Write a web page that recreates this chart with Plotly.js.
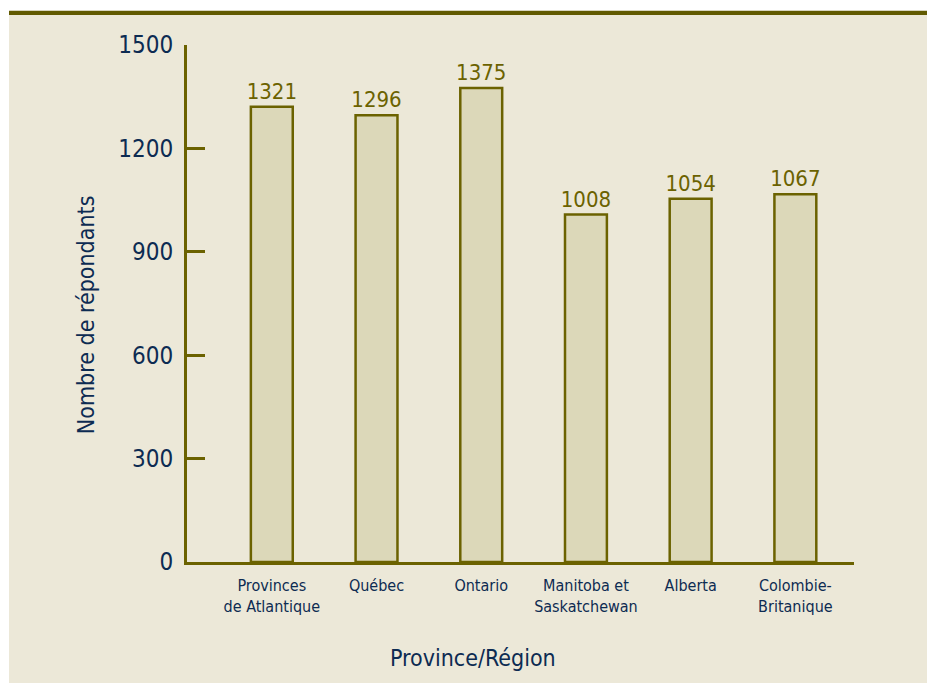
<!DOCTYPE html>
<html>
<head>
<meta charset="utf-8">
<script src="https://cdn.plot.ly/plotly-3.0.1.min.js"></script>
<style>html,body{margin:0;padding:0;background:#fff;}#chart{width:927px;height:683px;}</style>
</head>
<body>
<div id="chart"></div>
<script>
const categories = ["Provinces<br>de Atlantique", "Québec", "Ontario", "Manitoba et<br>Saskatchewan", "Alberta", "Colombie-<br>Britanique"];
const values = [1321, 1296, 1375, 1008, 1054, 1067];
const yTicks = [0, 300, 600, 900, 1200, 1500];
const yTitle = "Nombre de répondants";
const xTitle = "Province/Région";

const FONT = '"DejaVu Sans Condensed", "Liberation Sans Narrow", sans-serif';
const NAVY = '#0d2b52';
const OLIVE = '#6b6200';

// plot area in pixels
const L = 187, R = 854, T = 44.5, B = 562, W = 927, H = 683;
const pw = R - L, ph = B - T;
const px = x => (x - L) / pw;
const py = y => (B - y) / ph;

const trace = {
  type: 'bar',
  x: categories,
  y: values,
  width: 0.4,
  marker: {color: '#dcd8b9', line: {color: OLIVE, width: 2.5}},
  text: values.map(String),
  textposition: 'outside',
  constraintext: 'none',
  cliponaxis: false,
  textfont: {family: FONT, size: 22, color: OLIVE},
  hoverinfo: 'none'
};

const layout = {
  width: W, height: H,
  margin: {l: L, r: W - R, t: T, b: H - B, pad: 0},
  paper_bgcolor: '#ffffff',
  plot_bgcolor: 'rgba(0,0,0,0)',
  showlegend: false,
  bargap: 0,
  xaxis: {
    type: 'category',
    range: [-0.81, 5.56],
    showline: true, linecolor: OLIVE, linewidth: 3,
    ticks: '', showgrid: false, zeroline: false,
    tickfont: {family: FONT, size: 16, color: NAVY},
    ticklabelstandoff: 7,
    fixedrange: true
  },
  yaxis: {
    range: [0, 1500],
    tickvals: yTicks,
    ticktext: yTicks.map(String),
    showline: true, linecolor: OLIVE, linewidth: 3,
    ticks: 'inside', ticklen: 18, tickwidth: 3, tickcolor: OLIVE,
    showgrid: false, zeroline: false,
    tickfont: {family: FONT, size: 24, color: NAVY},
    ticklabelstandoff: 6,
    fixedrange: true
  },
  shapes: [
    {type: 'rect', layer: 'below', xref: 'paper', yref: 'paper',
     x0: px(9), x1: px(940), y0: py(700), y1: py(14.5),
     fillcolor: '#ece8d8', line: {width: 0}},
    {type: 'rect', layer: 'below', xref: 'paper', yref: 'paper',
     x0: px(9), x1: px(940), y0: py(14.5), y1: py(10.2),
     fillcolor: '#615a00', line: {width: 0}}
  ],
  annotations: [
    {text: xTitle, xref: 'paper', yref: 'paper', x: px(473), y: py(658),
     showarrow: false, xanchor: 'center', yanchor: 'middle',
     font: {family: FONT, size: 23, color: NAVY}},
    {text: yTitle, xref: 'paper', yref: 'paper', x: px(86), y: py(315),
     showarrow: false, xanchor: 'center', yanchor: 'middle', textangle: -90,
     font: {family: FONT, size: 23, color: NAVY}}
  ]
};

Plotly.newPlot('chart', [trace], layout, {displayModeBar: false, staticPlot: true});
</script>
</body>
</html>
